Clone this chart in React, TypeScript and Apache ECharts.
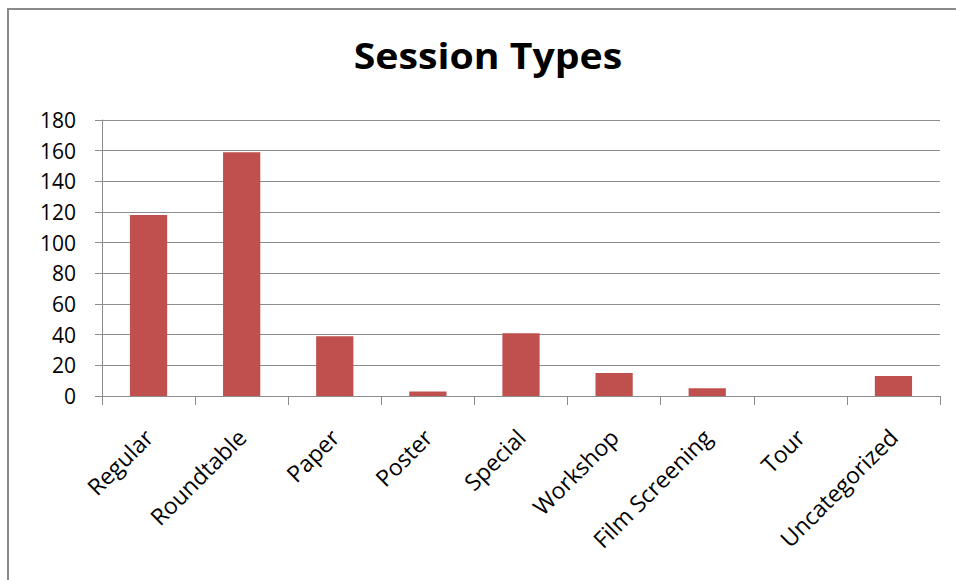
import React, { useEffect, useRef } from "react";
import * as echarts from "echarts";

// Session counts per type
const categories = [
  "Regular",
  "Roundtable",
  "Paper",
  "Poster",
  "Special",
  "Workshop",
  "Film Screening",
  "Tour",
  "Uncategorized",
];
const sessionCounts = [118, 159, 39, 3, 41, 15, 5, 0, 13];
const yTicks = { min: 0, max: 180, interval: 20 };
const chartTitle = "Session Types";

const FONT = "Open Sans";

export default function App() {
  const ref = useRef<HTMLDivElement>(null);

  useEffect(() => {
    if (!ref.current) return;
    const chart = echarts.init(ref.current, undefined, { renderer: "svg" });
    chart.setOption({
      animation: false,
      backgroundColor: "#ffffff",
      graphic: [
        {
          type: "polyline",
          shape: {
            points: [
              [8, 580],
              [8, 9],
              [956, 9],
            ],
          },
          style: { stroke: "#8a8a8a", lineWidth: 2, fill: "none" },
          silent: true,
        },
        {
          type: "text",
          x: 488,
          y: 37,
          scaleX: 1.09,
          style: {
            text: chartTitle,
            textAlign: "center",
            textVerticalAlign: "top",
            fontFamily: FONT,
            fontWeight: "bold",
            fontSize: 36,
            fill: "#000000",
          },
          silent: true,
        },
      ],
      grid: {
        left: 102,
        right: 16,
        top: 120,
        bottom: 184,
        containLabel: false,
      },
      xAxis: {
        type: "category",
        data: categories,
        boundaryGap: true,
        axisLine: { show: true, lineStyle: { color: "#8c8c8c", width: 1 } },
        axisTick: {
          show: true,
          alignWithLabel: false,
          length: 9,
          lineStyle: { color: "#8c8c8c" },
        },
        axisLabel: {
          rotate: 45,
          interval: 0,
          margin: 37,
          fontFamily: FONT,
          fontSize: 23,
          color: "#000000",
        },
        splitLine: { show: false },
      },
      yAxis: {
        type: "value",
        min: yTicks.min,
        max: yTicks.max,
        interval: yTicks.interval,
        axisLine: { show: true, lineStyle: { color: "#8c8c8c", width: 1 } },
        axisTick: { show: true, length: 7, lineStyle: { color: "#8c8c8c" } },
        axisLabel: {
          margin: 26,
          fontFamily: FONT,
          fontSize: 21,
          color: "#000000",
        },
        splitLine: { show: true, lineStyle: { color: "#8c8c8c", width: 1 } },
      },
      series: [
        {
          type: "bar",
          data: sessionCounts,
          barWidth: "40%",
          itemStyle: {
            color: "#C0504D",
            borderWidth: 0,
          },
        },
      ],
    });
    return () => chart.dispose();
  }, []);

  return (
    <div
      ref={ref}
      style={{
        position: "fixed",
        left: 0,
        top: 0,
        width: 956,
        height: 580,
        background: "#ffffff",
      }}
    />
  );
}
